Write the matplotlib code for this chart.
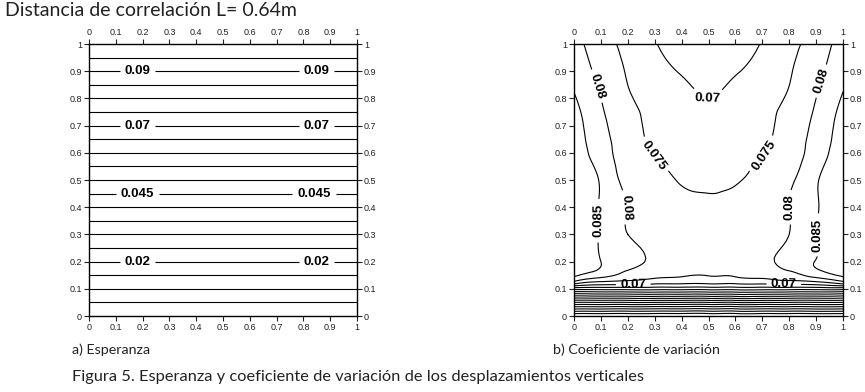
import numpy as np
import matplotlib
matplotlib.use("Agg")
import matplotlib.pyplot as plt
import matplotlib.tri as mtri

# a) Esperanza: lineas horizontales, valor segun la altura y
y_esp = [0.0, 0.1, 0.2, 0.3, 0.4, 0.5, 0.6, 0.7, 0.8, 0.9, 1.0]
esp = [0.0, 0.01, 0.02, 0.03, 0.04, 0.05, 0.06, 0.07, 0.08, 0.09, 0.10]
x_esp = [0.0, 0.5, 1.0]

# b) Coeficiente de variacion leido en una malla gruesa
x_cv = [0.0, 0.1, 0.2, 0.3, 0.4, 0.5, 0.6, 0.7, 0.8, 0.9, 1.0]
y_cv = [0.0, 0.05, 0.1, 0.125, 0.15, 0.2, 0.3, 0.4, 0.5, 0.6, 0.7, 0.8, 0.9, 1.0]
cv = [
    [0.0, 0.0, 0.0, 0.0, 0.0, 0.0, 0.0, 0.0, 0.0, 0.0, 0.0],
    [0.030, 0.030, 0.030, 0.030, 0.030, 0.030, 0.030, 0.030, 0.030, 0.030, 0.030],
    [0.062, 0.062, 0.062, 0.062, 0.062, 0.062, 0.062, 0.062, 0.062, 0.062, 0.062],
    [0.079, 0.0745, 0.0735, 0.0722, 0.0718, 0.0718, 0.0718, 0.0722, 0.0735, 0.0745, 0.079],
    [0.086, 0.082, 0.0785, 0.0765, 0.0755, 0.0752, 0.0755, 0.0765, 0.0785, 0.082, 0.086],
    [0.0885, 0.085, 0.0815, 0.079, 0.0782, 0.078, 0.0782, 0.079, 0.0815, 0.0852, 0.0885],
    [0.0885, 0.0845, 0.080, 0.0788, 0.0778, 0.0773, 0.0778, 0.0788, 0.080, 0.0848, 0.0885],
    [0.0885, 0.0845, 0.0798, 0.0782, 0.0768, 0.076, 0.0768, 0.0782, 0.080, 0.0845, 0.0885],
    [0.088, 0.0845, 0.0782, 0.0765, 0.0745, 0.0738, 0.0745, 0.0765, 0.079, 0.0845, 0.088],
    [0.0875, 0.0825, 0.0772, 0.0748, 0.0735, 0.0728, 0.0735, 0.0748, 0.0772, 0.0825, 0.0875],
    [0.0875, 0.0812, 0.0771, 0.0736, 0.0722, 0.0715, 0.0722, 0.0736, 0.0771, 0.0812, 0.0875],
    [0.0855, 0.080, 0.0756, 0.0732, 0.0712, 0.070, 0.0712, 0.0732, 0.0756, 0.080, 0.0855],
    [0.0835, 0.0785, 0.0746, 0.0718, 0.0697, 0.069, 0.0697, 0.0718, 0.0746, 0.0785, 0.0838],
    [0.082, 0.077, 0.0737, 0.0703, 0.068, 0.0675, 0.068, 0.0703, 0.0737, 0.077, 0.0825],
]

ticks = [0, 0.1, 0.2, 0.3, 0.4, 0.5, 0.6, 0.7, 0.8, 0.9, 1]
tick_labels = ["0", "0.1", "0.2", "0.3", "0.4", "0.5", "0.6", "0.7", "0.8", "0.9", "1"]
levels = np.arange(0.005, 0.0951, 0.005)

lbl_font = {"family": "Liberation Sans", "size": 9.5, "weight": "bold"}


def style_axes(ax):
    ax.set_xlim(0, 1)
    ax.set_ylim(0, 1)
    ax.set_xticks(ticks)
    ax.set_yticks(ticks)
    ax.set_xticklabels(tick_labels)
    ax.set_yticklabels(tick_labels)
    ax.tick_params(direction="out", length=3.5, width=0.8, labelsize=6.5,
                   pad=1.5, colors="#222222",
                   top=True, right=True, labeltop=True, labelright=True)
    for lab in ax.get_xticklabels() + ax.get_yticklabels():
        lab.set_family("Liberation Sans")
    for s in ax.spines.values():
        s.set_linewidth(1.0)


def format_label(v):
    return ("%.3f" % v).rstrip("0")


fig = plt.figure(figsize=(8.65, 3.92), dpi=100)
ax1 = fig.add_axes([89 / 865, 76 / 392, 268 / 865, 272 / 392])
ax2 = fig.add_axes([574 / 865, 76 / 392, 269 / 865, 272 / 392])

# panel a
X1, Y1 = np.meshgrid(x_esp, y_esp)
Z1 = np.repeat(np.array(esp)[:, None], len(x_esp), axis=1)
cs1 = ax1.contour(X1, Y1, Z1, levels=levels, colors="black", linewidths=0.8)
pos1 = [(0.18, 0.9), (0.85, 0.9), (0.18, 0.7), (0.85, 0.7),
        (0.18, 0.45), (0.84, 0.45), (0.18, 0.2), (0.85, 0.2)]
t1 = ax1.clabel(cs1, manual=pos1, fmt=format_label, inline=True, inline_spacing=2)
for t in t1:
    t.set_fontproperties(lbl_font)
style_axes(ax1)

# panel b
Xg, Yg = np.meshgrid(x_cv, y_cv)
tri = mtri.Triangulation(Xg.ravel(), Yg.ravel())
refiner = mtri.UniformTriRefiner(tri)
tri_f, z_f = refiner.refine_field(np.array(cv).ravel(), subdiv=3)
cs2 = ax2.tricontour(tri_f, z_f, levels=levels, colors="black", linewidths=0.8)
pos2 = [(0.5, 0.81), (0.1, 0.85), (0.9, 0.87), (0.3, 0.6), (0.7, 0.6),
        (0.08, 0.35), (0.92, 0.3), (0.19, 0.4), (0.8, 0.4),
        (0.22, 0.118), (0.78, 0.118)]
t2 = ax2.clabel(cs2, manual=pos2, fmt=format_label, inline=True, inline_spacing=2)
for t in t2:
    t.set_fontproperties(lbl_font)
style_axes(ax2)

txt_font = "Lato"
fig.text(5 / 865, 1 - 10 / 392, "Distancia de correlación L= 0.64m",
         fontsize=14, family=txt_font, va="center", ha="left", color="#222222")
fig.text(72 / 865, 1 - 350 / 392, "a) Esperanza", fontsize=10.3,
         family=txt_font, va="center", ha="left", color="#222222")
fig.text(553 / 865, 1 - 350 / 392, "b) Coeficiente de variación", fontsize=10.3,
         family=txt_font, va="center", ha="left", color="#222222")
fig.text(72 / 865, 1 - 377 / 392,
         "Figura 5. Esperanza y coeficiente de variación de los desplazamientos verticales",
         fontsize=11.8, family=txt_font, va="center", ha="left", color="#222222")

fig.savefig("out.png", dpi=100)
